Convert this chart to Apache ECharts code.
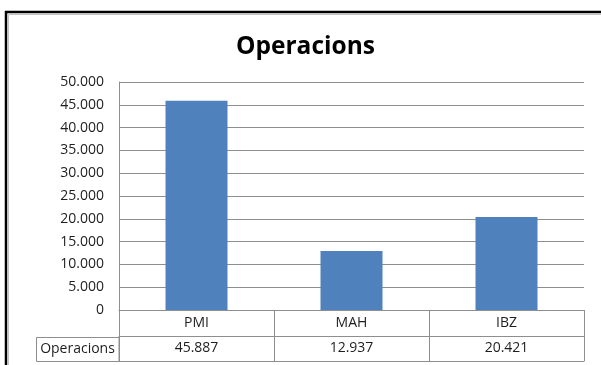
<!DOCTYPE html>
<html>
<head>
<meta charset="utf-8">
<script src="https://cdn.jsdelivr.net/npm/echarts@6/dist/echarts.min.js"></script>
<style>
  html, body { margin: 0; padding: 0; background: #fff; }
  #chart { width: 601px; height: 365px; }
</style>
</head>
<body>
<div id="chart"></div>
<script>
// Aircraft operations per airport
const chartTitle = 'Operacions';
const categories = ['PMI', 'MAH', 'IBZ'];
const operacions = [45887, 12937, 20421];
const seriesName = 'Operacions';

const FONT = '"Open Sans", sans-serif';
const TEXT = '#1e1e1e';
const LINE = '#8e8e8e';

// dot as thousands separator
function fmt(v) {
  return String(v).replace(/\B(?=(\d{3})+(?!\d))/g, '.');
}

const chart = echarts.init(document.getElementById('chart'));
chart.setOption({
  animation: false,
  backgroundColor: '#fff',
  title: {
    text: chartTitle,
    left: 231,
    top: 30,
    textStyle: { fontFamily: FONT, fontSize: 24.5, fontWeight: 'bold', color: '#000' }
  },
  grid: { left: 119, right: 17, top: 82, bottom: 55 },
  yAxis: {
    type: 'value',
    min: 0,
    max: 50000,
    interval: 5000,
    axisLine: { show: true, lineStyle: { color: LINE, width: 1 } },
    axisTick: { show: false },
    axisLabel: {
      margin: 15,
      fontFamily: FONT, fontSize: 14, color: TEXT,
      formatter: v => fmt(v)
    },
    splitLine: { show: true, lineStyle: { color: LINE, width: 1 } }
  },
  xAxis: [
    {
      // category row of the data table
      type: 'category',
      data: categories,
      position: 'bottom',
      axisLine: { show: true, lineStyle: { color: LINE, width: 1 } },
      axisTick: { show: true, length: 51, lineStyle: { color: LINE, width: 1 } },
      axisLabel: { margin: 6, fontFamily: FONT, fontSize: 14, color: TEXT }
    },
    {
      // value row of the data table
      type: 'category',
      data: operacions.map(fmt),
      position: 'bottom',
      offset: 26.5,
      axisLine: { show: true, lineStyle: { color: LINE, width: 1 } },
      axisTick: { show: false },
      axisLabel: { margin: 5, fontFamily: FONT, fontSize: 14, color: TEXT }
    },
    {
      // bottom edge of the data table
      type: 'category',
      data: categories,
      position: 'bottom',
      offset: 51,
      axisLine: { show: true, lineStyle: { color: LINE, width: 1 } },
      axisTick: { show: false },
      axisLabel: { show: false }
    }
  ],
  series: [{
    name: seriesName,
    type: 'bar',
    xAxisIndex: 0,
    data: operacions,
    barWidth: '40%',
    itemStyle: { color: '#4F81BD' }
  }],
  graphic: [
    {
      // series name cell of the data table
      type: 'rect',
      shape: { x: 36.5, y: 337.5, width: 82.5, height: 24 },
      style: { fill: 'none', stroke: LINE, lineWidth: 1 },
      silent: true
    },
    {
      type: 'text',
      x: 77.5,
      y: 349.5,
      style: {
        text: seriesName,
        font: '14px ' + FONT,
        fill: TEXT,
        align: 'center',
        verticalAlign: 'middle'
      },
      silent: true
    },
    {
      // chart frame
      type: 'rect',
      shape: { x: 8.5, y: 14.5, width: 700, height: 500 },
      style: { fill: 'none', stroke: '#c4c4c4', lineWidth: 1 },
      silent: true
    },
    {
      type: 'rect',
      shape: { x: 6, y: 12, width: 700, height: 500 },
      style: { fill: 'none', stroke: '#000', lineWidth: 2.5 },
      silent: true
    }
  ]
});
</script>
</body>
</html>
